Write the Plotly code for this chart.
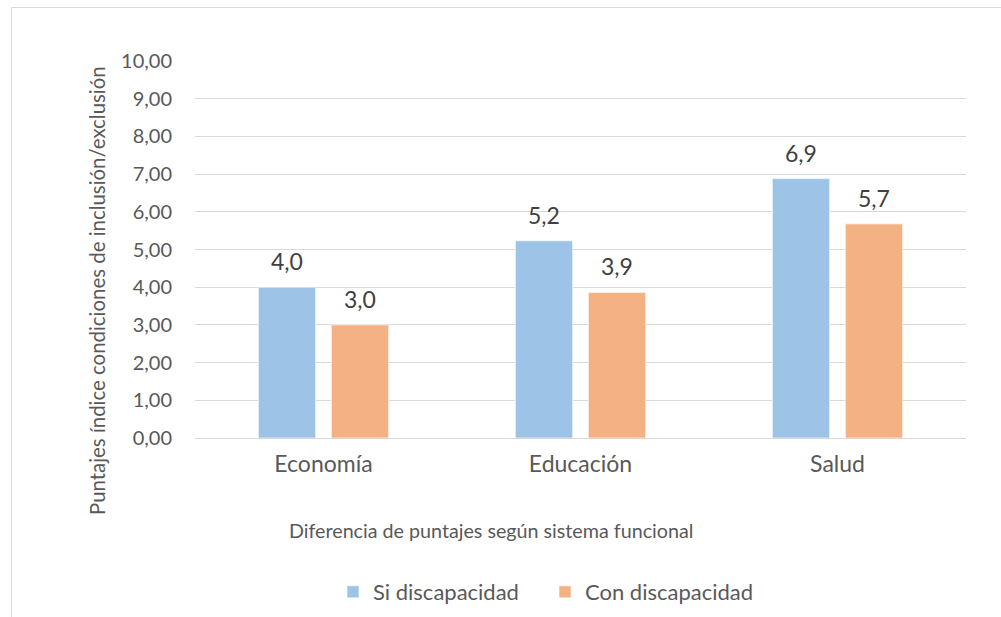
import plotly.graph_objects as go

categories = ["Economía", "Educación", "Salud"]
si_disc = [4.0, 5.23, 6.88]
con_disc = [3.0, 3.86, 5.68]
series_names = ["Si discapacidad", "Con discapacidad"]
colors = ["#9DC3E6", "#F4B183"]
y_ticks = [0, 1, 2, 3, 4, 5, 6, 7, 8, 9, 10]
y_title = "Puntajes índice condiciones de inclusión/exclusión"
x_title = "Diferencia de puntajes según sistema funcional"

W, H = 1001, 617
FONT = "Lato"
px = lambda v: v / W
py = lambda v: (H - v) / H

fig = go.Figure()
for name, vals, col, lg in zip(series_names, [si_disc, con_disc], colors, ["legend", "legend2"]):
    fig.add_trace(go.Bar(
        x=categories, y=vals, name=name, legend=lg,
        marker=dict(color=col, line=dict(color="rgba(255,255,255,0.6)", width=1)),
    ))

# data labels
for vals, shift in [(si_disc, -36.5), (con_disc, 36.5)]:
    for c, v in zip(categories, vals):
        fig.add_annotation(x=c, y=v, xref="x", yref="y", text=f"{v:.1f}".replace(".", ","),
                           showarrow=False, xshift=shift, yshift=26, yanchor="middle",
                           font=dict(family=FONT, size=23, color="#404040"))

fig.add_annotation(x=px(97), y=py(291), xref="paper", yref="paper", text=y_title,
                   textangle=-90, showarrow=False, xanchor="center", yanchor="middle",
                   font=dict(family=FONT, size=20.4, color="#595959"))
fig.add_annotation(x=px(491), y=py(530), xref="paper", yref="paper", text=x_title,
                   showarrow=False, xanchor="center", yanchor="middle",
                   font=dict(family=FONT, size=19.7, color="#595959"))

# chart frame
fig.add_shape(type="rect", xref="paper", yref="paper",
              x0=px(11.5), x1=1.2, y0=-0.2, y1=py(7.5),
              line=dict(color="#D9D9D9", width=1), fillcolor="rgba(0,0,0,0)", layer="below")

leg_common = dict(orientation="h", yanchor="middle", xanchor="left", y=py(592),
                  font=dict(family=FONT, size=22, color="#595959"),
                  itemwidth=30, bgcolor="rgba(0,0,0,0)")

fig.update_layout(
    width=W, height=H,
    margin=dict(l=0, r=0, t=0, b=0, autoexpand=False),
    paper_bgcolor="white", plot_bgcolor="white",
    separators=",.",
    barmode="group", bargap=0.432, bargroupgap=0.215,
    font=dict(family=FONT, color="#595959"),
    showlegend=True,
    legend=dict(x=px(333), **leg_common),
    legend2=dict(x=px(545), **leg_common),
    xaxis=dict(domain=[px(195), px(966)], showline=False, showgrid=False, ticks="",
               tickfont=dict(family=FONT, size=23, color="#595959"),
               ticklabelstandoff=10, zeroline=False),
    yaxis=dict(domain=[py(438), py(61)], range=[0, 10], tickvals=y_ticks,
               tickformat=".2f", showgrid=True, gridcolor="#D9D9D9", gridwidth=1,
               zeroline=True, zerolinecolor="#D9D9D9", zerolinewidth=1,
               showline=False, ticks="",
               tickfont=dict(family=FONT, size=20, color="#595959"),
               ticklabelstandoff=22),
)

fig.write_html("out.html")
